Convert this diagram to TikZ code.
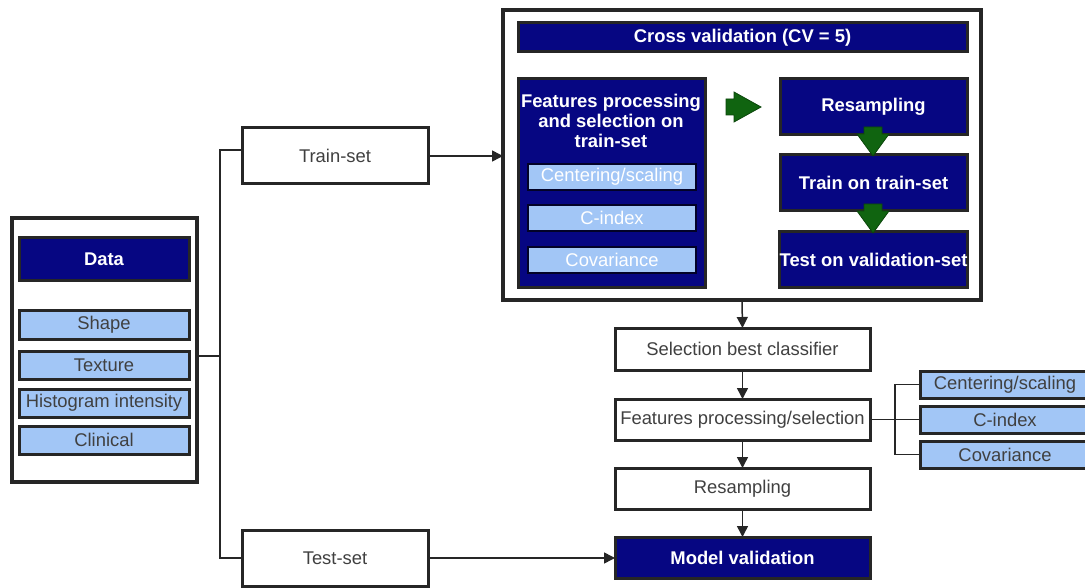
\documentclass[tikz,border=0pt]{standalone}
\usepackage{fontspec}
\setmainfont{Liberation Sans}
\usetikzlibrary{arrows.meta}
\definecolor{navy}{RGB}{6,6,130}
\definecolor{lblue}{RGB}{162,198,246}
\definecolor{edge}{RGB}{38,38,38}
\definecolor{garrow}{RGB}{16,100,16}
\newcommand\bx[7]{\node[#1,minimum width={#4-#2},minimum height={#5-#3}] (#6) at ({(#2+#4)/2},{(#3+#5)/2}) {#7};}
\begin{document}
\begin{tikzpicture}[x=1pt,y=-1pt,
  every node/.style={font=\fontsize{18.4}{20}\selectfont, inner sep=0pt, outer sep=0pt},
  outer/.style={draw=edge, line width=3.2pt, fill=white},
  wbox/.style={draw=edge, line width=3pt, fill=white, text=black!75},
  nbox/.style={draw=edge, line width=3pt, fill=navy, text=white, font=\fontsize{18.4}{20}\selectfont\bfseries},
  lbox/.style={draw=edge, line width=3pt, fill=lblue, text=black!75},
  llbox/.style={draw=black!70!navy, line width=2pt, fill=lblue, text=white},
  conn/.style={line width=1.5pt, draw=black!85},
  arr/.style={conn, -{Triangle[length=11pt,width=11pt]}},
  garr/.style={fill=garrow, draw=garrow!70!black, line width=0.8pt}
]
\useasboundingbox (0,0) rectangle (1085,588);

% Data block
\bx{outer}{12}{218}{197}{482}{data}{}
\bx{nbox}{19}{238}{189}{281}{datah}{Data}
\bx{lbox}{19}{311}{189}{339}{shape}{Shape}
\bx{lbox}{19}{351}{189}{379}{texture}{Texture}
\bx{lbox}{19}{389}{189}{417}{hist}{Histogram intensity}
\bx{lbox}{19}{426}{189}{454}{clin}{Clinical}

% train / test
\bx{wbox}{242}{128}{428}{184}{train}{Train-set}
\bx{wbox}{242}{530}{428}{586}{test}{Test-set}

% Cross validation block
\bx{outer}{503}{10}{981}{300}{cv}{}
\bx{nbox}{518}{23}{967}{52}{cvh}{Cross validation (CV = 5)}
\bx{nbox}{518}{79}{705}{288}{fp}{}
\node[text=white, font=\fontsize{18.4}{20}\selectfont\bfseries, align=center] (fptxt) at (611,121) {Features processing\\and selection on\\train-set};
\bx{llbox}{528}{164}{696}{190}{cs1}{Centering/scaling}
\bx{llbox}{528}{205}{696}{231}{ci1}{C-index}
\bx{llbox}{528}{247}{696}{273}{cov1}{Covariance}
\bx{nbox}{780}{79}{967}{135}{rs1}{Resampling}
\bx{nbox}{780}{155}{967}{211}{tr1}{Train on train-set}
\bx{nbox}{780}{232}{967}{288}{te1}{Test on validation-set}

% green arrows
\filldraw[garr] (726,99) -- (734,99) -- (734,92) -- (761,107) -- (734,122) -- (734,115) -- (726,115) -- cycle;
\filldraw[garr] (864,127) -- (882,127) -- (882,134) -- (889,134) -- (873,156) -- (857,134) -- (864,134) -- cycle;
\filldraw[garr] (864,204) -- (882,204) -- (882,211) -- (889,211) -- (873,233) -- (857,211) -- (864,211) -- cycle;

% lower pipeline
\bx{wbox}{615}{328}{870}{370}{sel}{Selection best classifier}
\bx{wbox}{615}{399}{870}{440}{fps}{Features processing/selection}
\bx{wbox}{615}{468}{870}{509}{rs2}{Resampling}
\bx{nbox}{615}{537}{870}{578}{mv}{Model validation}

\bx{lbox}{920}{371}{1090}{398}{cs2}{Centering/scaling}
\bx{lbox}{920}{406}{1090}{433}{ci2}{C-index}
\bx{lbox}{920}{441}{1090}{468}{cov2}{Covariance}

% connectors
\coordinate (split) at (220,356);
\coordinate (jt) at (220,150);
\coordinate (jb) at (220,558);
\coordinate (br) at (895,420);
\draw[conn] (data.east|-split) -- (split);
\draw[conn] (train.west|-jt) -- (jt) -- (jb) -- (test.west|-jb);
\draw[arr] (train.east) -- (cv.west|-train.east);
\draw[arr] (cv.south) -- (sel.north);
\draw[arr] (sel.south) -- (fps.north);
\draw[arr] (fps.south) -- (rs2.north);
\draw[arr] (rs2.south) -- (mv.north);
\draw[arr] (test.east) -- (mv.west|-test.east);
\draw[conn] (fps.east) -- (ci2.west);
\draw[conn] (cs2.west) -- (cs2.west-|br) -- (cov2.west-|br) -- (cov2.west);
\end{tikzpicture}
\end{document}
